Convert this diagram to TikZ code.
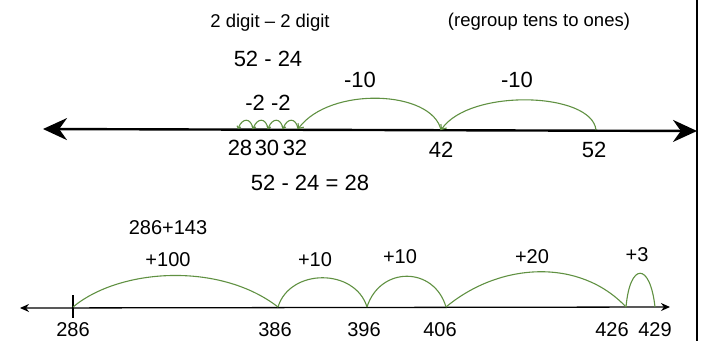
\documentclass[tikz,border=0pt]{standalone}
\usepackage{fontspec}
\setmainfont{Liberation Sans}
\usetikzlibrary{arrows.meta}

\definecolor{jumpgreen}{RGB}{96,145,66}

\begin{document}
\begin{tikzpicture}[x=1pt,y=-1pt,
	head/.style={font=\fontsize{18.5}{18.5}\selectfont},
	hand/.style={font=\fontsize{22}{22}\selectfont},
	small/.style={font=\fontsize{20}{20}\selectfont},
	jump/.style={draw=jumpgreen,line width=1.1pt},
	hop/.style={jump,-{Straight Barb[length=4pt,width=7pt]}}]
	\useasboundingbox (0,0) rectangle (702,341);
	% frame edge
	\draw[line width=1.4pt] (697,0)--(697,341);
	% top: 52 - 24
	\node[head] (title) at (270,23) {2 digit -- 2 digit};
	\node[head] (note) at (539,22) {(regroup tens to ones)};
	\node[hand] (task) at (268,59) {52 - 24};
	\coordinate (lft) at (43,129);
	\coordinate (rgt) at (697,131);
	\draw[line width=2.4pt,{Stealth[length=24pt,width=22pt]}-{Stealth[length=24pt,width=22pt]}] (lft)--(rgt);
	\coordinate (p28) at (238,129);
	\coordinate (h29) at (253,129);
	\coordinate (p30) at (268,129);
	\coordinate (h31) at (283,129);
	\coordinate (p32) at (298,129);
	\coordinate (p42) at (441,130);
	\coordinate (p52) at (596,130);
	\node[hand] (n28) at (240,148) {28};
	\node[hand] (n30) at (267,148) {30};
	\node[hand] (n32) at (295,148) {32};
	\node[hand] (n42) at (441,150) {42};
	\node[hand] (n52) at (594,150) {52};
	\draw[hop] (p52) .. controls (592,92) and (470,88) .. (p42);
	\draw[hop] (p42) .. controls (432,90) and (330,86) .. (p32);
	\foreach \a/\b in {p32/h31,h31/p30,p30/h29,h29/p28}
		\draw[jump,-{Straight Barb[length=2pt,width=4pt]}] (\a) .. controls +(-2,-12) and +(4,-11) .. (\b);
	\node[hand] (m10a) at (360,80) {-10};
	\node[hand] (m10b) at (517,80) {-10};
	\node[hand] (m2) at (268,103) {-2 -2};
	\node[hand] (ans) at (310,183) {52 - 24 = 28};
	% bottom: 286 + 143
	\coordinate (bl) at (20,308);
	\coordinate (br) at (670,307);
	\draw[line width=1.3pt,{Stealth[length=9pt,width=8pt]}-{Stealth[length=9pt,width=8pt]}] (bl)--(br);
	\coordinate (q286) at (73,307);
	\coordinate (q386) at (278,307);
	\coordinate (q396) at (367,307);
	\coordinate (q406) at (446,307);
	\coordinate (q426) at (626,307);
	\coordinate (q429) at (655,307);
	\draw[line width=1.2pt] (73,295)--(73,318);
	\node[small] (b286) at (73,330) {286};
	\node[small] (b386) at (275,330) {386};
	\node[small] (b396) at (364,330) {396};
	\node[small] (b406) at (440,330) {406};
	\node[small] (b426) at (612,330) {426};
	\node[small] (b429) at (655,330) {429};
	\draw[jump] (q286) .. controls (120,268) and (220,262) .. (q386);
	\draw[jump] (q386) .. controls (290,268) and (355,268) .. (q396);
	\draw[jump] (q396) .. controls (380,266) and (434,266) .. (q406);
	\draw[jump] (q406) .. controls (500,262) and (580,258) .. (q426);
	\draw[jump] (q426) .. controls (630,262) and (650,262) .. (q429);
	\node[small] (sum) at (168,228) {286+143};
	\node[small] (s100) at (168,260) {+100};
	\node[small] (s10a) at (315,260) {+10};
	\node[small] (s10b) at (400,257) {+10};
	\node[small] (s20) at (532,257) {+20};
	\node[small] (s3) at (637,255) {+3};
\end{tikzpicture}
\end{document}
